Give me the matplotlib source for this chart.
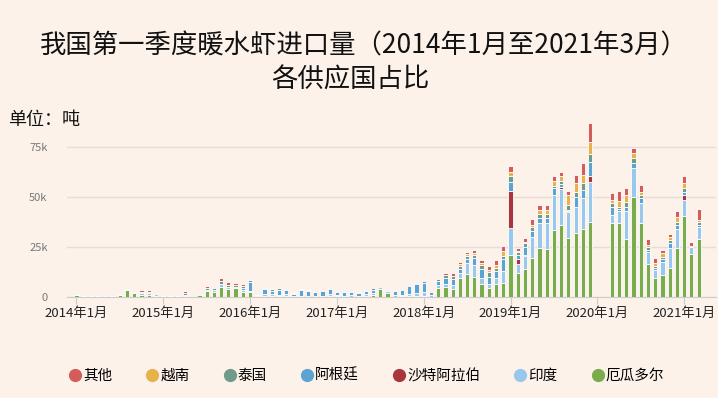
import matplotlib
matplotlib.use("Agg")
import matplotlib.pyplot as plt
from matplotlib.lines import Line2D
import numpy as np

plt.rcParams['font.family'] = ['Noto Sans CJK SC', 'DejaVu Sans']

# Monthly imports, thousand tonnes, Jan 2014 .. Mar 2021 (87 months)
ecuador = ([1.0, 0.4, 0.2, 0.4, 0.6, 0.2, 0.8, 3.5, 2.0, 1.2, 1.0, 0.5] +
           [0.2, 0, 0.2, 0.4, 0.3, 0.8, 2.8, 2.5, 5.2, 3.8, 4.3, 2.3] +
           [2.3, 0, 0.5, 0.7, 0.6, 0.7, 0, 0, 0, 0, 0, 0.3] +
           [0.3, 0, 0, 0, 0.7, 1.2, 4.0, 2.0, 0, 0.3, 0.3, 0.5] +
           [0.5, 0, 4.7, 5.2, 4.0, 9.7, 11.5, 10.2, 6.5, 4.3, 6.5, 7.2] +
           [21.0, 12.2, 13.8, 19.7, 24.3, 23.8, 33.3, 36.0, 29.7, 32.2, 34.2, 37.7] +
           [0, 0, 36.8, 36.8, 28.8, 49.8, 36.8, 16.5, 9.3, 11.0, 14.3, 24.3] +
           [40.5, 21.5, 29.0])
india = ([0, 0, 0, 0, 0.3, 0, 0, 0.3, 0.5, 0.6, 0.8, 1.0] +
         [0.2, 0.2, 0, 0.8, 0.4, 0.6, 0.8, 0.9, 1.5, 1.2, 0.8, 1.0] +
         [0.5, 0.3, 0.8, 1.0, 0.6, 1.0, 0.5, 0.7, 0.7, 0.3, 0.6, 1.0] +
         [0.8, 0.7, 0.8, 0.5, 0.7, 1.0, 0.8, 0.9, 0.8, 0.8, 1.0, 1.5] +
         [2.0, 0.8, 1.5, 1.3, 2.0, 2.1, 5.3, 5.8, 2.8, 2.0, 2.8, 6.0] +
         [13.3, 4.5, 6.7, 10.5, 12.5, 13.0, 17.7, 18.0, 12.6, 13.0, 15.1, 20.0] +
         [0, 0, 4.2, 6.4, 14.4, 14.5, 10.0, 6.2, 4.2, 6.7, 10.0, 9.5] +
         [8.0, 3.3, 6.2])
saudi = ([0] * 12 + [0] * 12 + [0] * 12 + [0] * 12 + [0] * 12 +
         [18.7, 2.5, 0.3, 0, 0, 0, 0, 1.0, 0.5, 0, 0, 3.0] +
         [0] * 12 +
         [2.5, 0, 0])
argentina = ([0, 0, 0, 0, 0, 0, 0, 0, 0, 0, 0, 0.4] +
             [0, 0, 0, 0, 0, 0, 0, 0, 0, 0, 0, 1.0] +
             [4.7, 0.5, 2.8, 1.5, 2.4, 1.6, 1.2, 2.8, 2.3, 2.2, 2.6, 2.5] +
             [1.5, 1.8, 1.7, 1.5, 1.8, 1.5, 0, 0.7, 2.0, 2.4, 4.0, 4.5] +
             [4.5, 1.8, 2.0, 2.8, 3.0, 2.2, 2.2, 3.3, 4.7, 3.9, 3.7, 5.6] +
             [4.7, 2.0, 4.4, 2.8, 2.5, 2.5, 3.3, 1.5, 0.5, 5.0, 4.2, 6.6] +
             [0, 0, 4.2, 1.0, 2.0, 2.5, 2.5, 0.8, 1.0, 1.1, 2.5, 2.2] +
             [1.7, 0, 1.0])
thailand = ([0, 0.2, 0.2, 0.2, 0.5, 0.1, 0.2, 0.4, 0.5, 0.7, 0.8, 0.3] +
            [0, 0.2, 0.3, 0.8, 0.5, 0.5, 1.0, 0.9, 1.3, 1.2, 0.9, 1.0] +
            [0.8, 0.2, 0.4, 0.6, 0.7, 0.7, 0.3, 0.5, 0.5, 0.2, 0.4, 0.5] +
            [0.5, 0.4, 0.5, 0.3, 0.5, 0.8, 0.7, 0.6, 0.5, 0.5, 0.5, 0.7] +
            [1.0, 0, 0.8, 1.7, 1.5, 1.7, 1.5, 1.7, 2.0, 2.5, 1.3, 1.7] +
            [3.0, 1.5, 1.6, 1.8, 2.0, 2.2, 1.4, 1.5, 2.7, 2.5, 3.3, 4.0] +
            [0, 0, 1.6, 1.0, 2.5, 2.5, 1.7, 1.3, 1.0, 1.4, 1.7, 1.7] +
            [1.6, 0.5, 1.5])
vietnam = ([0] * 12 + [0] * 12 + [0] * 12 + [0] * 12 +
           [0, 0, 0, 0, 0, 0.8, 0.8, 0.8, 0.8, 1.0, 1.7, 2.7] +
           [1.6, 0.5, 0.8, 1.2, 2.2, 2.0, 2.5, 2.5, 5.0, 4.1, 4.2, 6.0] +
           [0, 0, 1.7, 3.0, 3.3, 2.5, 1.7, 1.2, 1.3, 1.6, 1.3, 2.5] +
           [2.5, 0, 0.8])
other = ([0.2, 0, 0, 0, 0.4, 0, 0, 0, 0.6, 1.1, 1.0, 0.5] +
         [0.1, 0, 0, 1.2, 0.3, 0.4, 0.7, 0.9, 1.5, 1.5, 1.0, 1.2] +
         [0.7, 0, 0.3, 0.4, 0.5, 0.5, 0, 0, 0, 0, 0.4, 0.5] +
         [0.4, 0.4, 0.5, 0, 0.5, 0.7, 0.7, 0.5, 0.5, 0.5, 0.5, 0.5] +
         [0.5, 0.6, 0.7, 1.2, 1.3, 1.2, 1.4, 1.7, 1.7, 2.0, 2.5, 2.5] +
         [3.4, 1.2, 2.1, 3.0, 2.5, 2.5, 2.5, 1.8, 2.0, 4.2, 5.8, 9.5] +
         [0, 0, 3.3, 5.0, 3.3, 2.5, 3.3, 2.8, 2.5, 1.7, 1.7, 2.8] +
         [3.7, 2.4, 5.3])

series_names = ['厄瓜多尔', '印度', '沙特阿拉伯', '阿根廷', '泰国', '越南', '其他']
series_values = [ecuador, india, saudi, argentina, thailand, vietnam, other]
series_colors = ['#7aab4c', '#98c8ec', '#a8363c', '#5aa3d2', '#6f9c88', '#e7b24c', '#d45d5c']

tick_positions = [0, 12, 24, 36, 48, 60, 72, 84]
tick_labels = ['2014年1月', '2015年1月', '2016年1月', '2017年1月',
               '2018年1月', '2019年1月', '2020年1月', '2021年1月']

bg = '#fcf2ea'
fig = plt.figure(figsize=(7.18, 3.98), dpi=100, facecolor=bg)
ax = fig.add_axes([67 / 718, (398 - 297) / 398, (716 - 67) / 718, (297 - 115) / 398])
ax.set_facecolor(bg)

x = np.arange(len(ecuador))
bottom = np.zeros(len(x))
for name, vals, col in zip(series_names, series_values, series_colors):
    v = np.array(vals, dtype=float) * 1000
    ax.bar(x, v, bottom=bottom, width=0.58, color=col, edgecolor='white',
           linewidth=0.6, label=name, zorder=3)
    bottom += v

ax.set_xlim(-1.3, 88.4)
ax.set_ylim(0, 91000)
ax.set_yticks([0, 25000, 50000, 75000])
ax.set_yticklabels(['0', '25k', '50k', '75k'], color='#777777', fontsize=8)
ax.yaxis.grid(True, color='#e8ddd6', linewidth=1, zorder=0)
ax.tick_params(axis='y', length=0, pad=14)
ax.set_xticks(tick_positions)
ax.set_xticklabels(tick_labels, fontsize=9.5, color='#222222')
ax.tick_params(axis='x', length=5, color='#cccccc', pad=2)
for s in ['top', 'right', 'left']:
    ax.spines[s].set_visible(False)
ax.spines['bottom'].set_color('#cccccc')

fig.text(364 / 718, 1 - 46 / 398, '我国第一季度暖水虾进口量（2014年1月至2021年3月）',
         ha='center', va='center', fontsize=19, color='#111111')
fig.text(350 / 718, 1 - 80 / 398, '各供应国占比',
         ha='center', va='center', fontsize=19, color='#111111')
fig.text(8 / 718, 1 - 120 / 398, '单位：吨', ha='left', va='center',
         fontsize=13, color='#111111')

handles = [Line2D([], [], marker='o', linestyle='', markersize=8.5,
                  markerfacecolor=c, markeredgecolor=c)
           for c in series_colors[::-1]]
fig.legend(handles, series_names[::-1], loc='center', ncol=7,
           bbox_to_anchor=(366 / 718, 1 - 376 / 398), frameon=False,
           fontsize=10.5, handletextpad=0.05, columnspacing=2.25,
           handlelength=1.0)

fig.savefig('out.png', dpi=100, facecolor=bg)
